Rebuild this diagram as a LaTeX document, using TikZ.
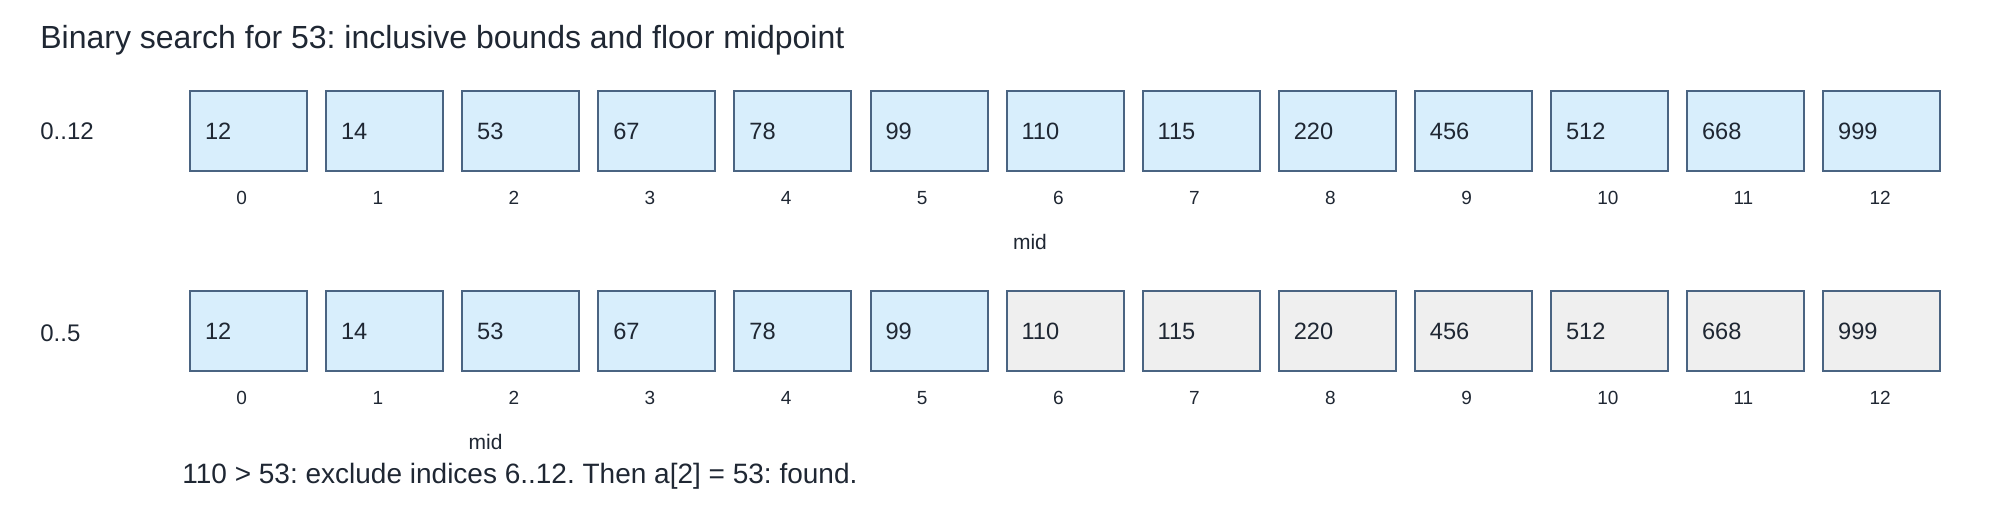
\documentclass[tikz,border=0pt]{standalone}
\usepackage{fontspec}
\setmainfont{Liberation Sans}
\frenchspacing
\definecolor{cellblue}{HTML}{D8EEFC}
\definecolor{cellgray}{HTML}{EFEFEF}
\definecolor{cellline}{HTML}{4A6482}
\definecolor{ink}{HTML}{1F2733}
\begin{document}
\begin{tikzpicture}[x=0.5pt,y=-0.5pt,
  cell/.style={draw=cellline, line width=1pt, minimum width=58.5pt, minimum height=40pt,
    text width=43.5pt, align=left, inner xsep=7.5pt, inner ysep=0pt, anchor=north west,
    font=\fontsize{11.8pt}{14pt}\selectfont, text=ink},
  active/.style={cell, fill=cellblue},
  excluded/.style={cell, fill=cellgray},
  idx/.style={font=\fontsize{9.5pt}{11pt}\selectfont, text=ink, anchor=west, inner sep=0pt},
  midlbl/.style={font=\fontsize{10.5pt}{12pt}\selectfont, text=ink, anchor=west, inner sep=0pt},
  rowlbl/.style={font=\fontsize{12pt}{14pt}\selectfont, text=ink, anchor=west, inner sep=0pt},
  title/.style={font=\fontsize{16pt}{19pt}\selectfont, text=ink, anchor=west, inner sep=0pt},
  caption/.style={font=\fontsize{14pt}{17pt}\selectfont, text=ink, anchor=west, inner sep=0pt}]
\useasboundingbox (0,0) rectangle (2000,510);
\node[title] (title) at (40,40) {Binary search for 53: inclusive bounds and floor midpoint};
\node[rowlbl] (row1) at (40,131) {0..12};
\node[rowlbl] (row2) at (40,333) {0..5};
\foreach \v [count=\i from 0] in {12,14,53,67,78,99,110,115,220,456,512,668,999} {
  \node[active] (a\i) at ({189+136.1*\i},90) {\v};
  \node[idx] (ai\i) at ({236+136.1*\i},198) {\i};
  \pgfmathtruncatemacro{\ex}{\i>5}
  \ifnum\ex=1
    \node[excluded] (b\i) at ({189+136.1*\i},290) {\v};
  \else
    \node[active] (b\i) at ({189+136.1*\i},290) {\v};
  \fi
  \node[idx] (bi\i) at ({236+136.1*\i},398) {\i};
}
\node[midlbl] (mid1) at ({189+136.1*6+7},242) {mid};
\node[midlbl] (mid2) at ({189+136.1*2+7},442) {mid};
\node[caption] (cap) at (182,476) {110 > 53: exclude indices 6..12. Then a[2] = 53: found.};
\end{tikzpicture}
\end{document}
